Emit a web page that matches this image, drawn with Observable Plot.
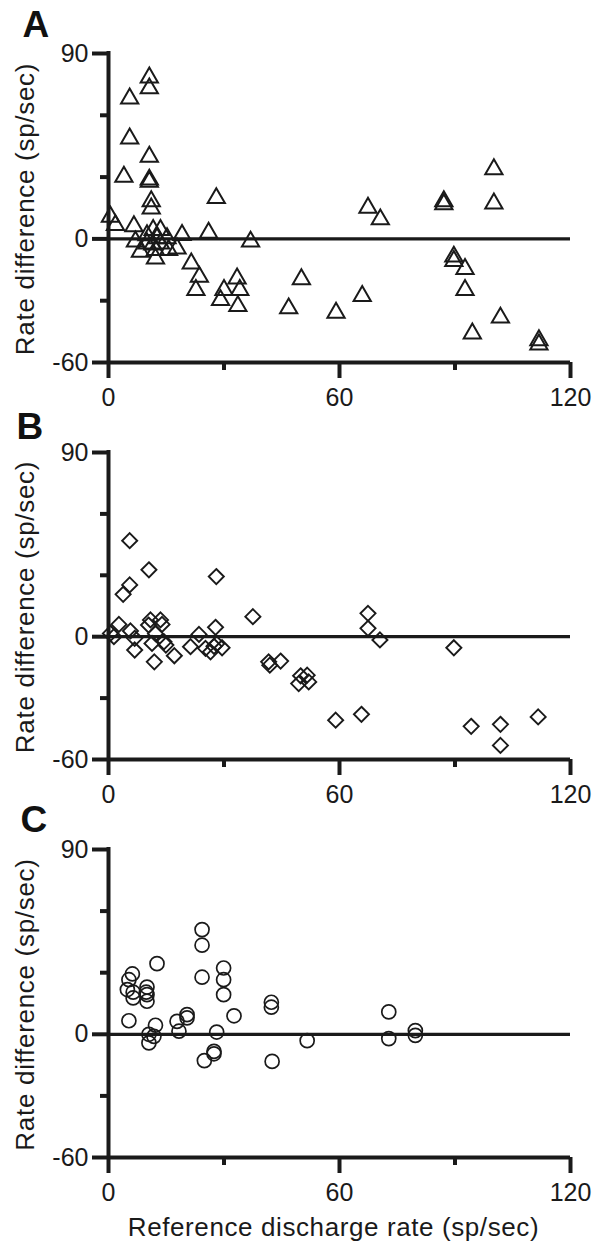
<!DOCTYPE html>
<html>
<head>
<meta charset="utf-8">
<script src="https://cdn.jsdelivr.net/npm/d3@7"></script>
<script src="https://cdn.jsdelivr.net/npm/@observablehq/plot@0.6"></script>
<style>
  html, body { margin: 0; padding: 0; background: #fff; }
  #chart { width: 603px; height: 1248px; overflow: hidden; }
  #chart svg { display: block; }
</style>
</head>
<body>
<div id="chart"></div>
<script>
// ---- tick values and labels ----
const xTicksMajor = [0, 60, 120];
const xTicksMinor = [30, 90];
const yTicksMajor = [90, 0, -60];
const yTicksMinor = [60, 30, -30];
const xDomain = [0, 120];
const yDomain = [-60, 90];
const panelLetters = ["A", "B", "C"];
const yLabel = "Rate difference (sp/sec)";
const xLabel = "Reference discharge rate (sp/sec)";

// ---- Panel A (triangles): reference rate, rate difference ----
const aRefRate = [10.6, 10.6, 5.5, 5.5, 10.6, 4.0, 10.6, 10.6, 28, 11.1, 11.1, 0.5, 1.8, 6.6, 26, 19.1, 36.9,
  7, 8.3, 10, 11.6, 13.5, 12.2, 12.2, 13.5, 15.2, 15.6, 17.8, 11.5, 12.6, 10,
  21.5, 23.6, 22.7, 30, 29.1, 33.4, 34.1, 33.6, 46.8, 50.1, 65.9, 59.1, 67.4, 70.6,
  87.1, 87.1, 89.7, 89.7, 92.6, 92.6, 100.1, 100.1, 101.8, 94.5, 111.8, 111.8];
const aRateDiff = [79.6, 74.3, 69.4, 50, 41.1, 31.4, 30, 29, 21, 19.5, 16, 12, 7.9, 7.4, 4.2, 3.1, -0.1,
  0, -5, -1, 5.5, 5.5, -8.3, -4.2, -1, 1.5, -4.2, -3.4, -1.5, 1.5, 3,
  -10.7, -17.2, -23.6, -23.6, -28.5, -18, -23.6, -31.4, -32.5, -18.4, -26.5, -34.6, 16.3, 10.7,
  19.5, 18, -7.4, -9.5, -13.4, -23.6, 35, 18.4, -37, -44.7, -48, -50];

// ---- Panel B (diamonds) ----
const bRefRate = [5.5, 10.5, 28, 5.5, 3.8, 37.5, 0.5, 2.7, 1.4, 5.7, 6.8, 6.8, 10.9, 10.4, 13.5, 13.9, 12.2,
  11.3, 11.9, 14.4, 14.9, 17.1, 23.5, 21.3, 25.2, 26.5, 27.8, 28.1, 29.5, 27.4,
  41.6, 41.9, 44.7, 49.9, 51.6, 49.4, 52, 67.4, 67.4, 70.5, 89.7, 59, 65.7, 94.2, 101.8, 101.8, 111.6];
const bRateDiff = [46.9, 32.7, 29.4, 25.3, 20.7, 9.8, 1.6, 6, 0, 2.8, -0.8, -6.5, 8.2, 5.7, 8.2, 6, 1.5,
  -3.3, -12.3, -2.5, -4.1, -9.3, 1.1, -4.9, -5.7, -7.4, 4.6, -3.5, -5.4, -4.7,
  -12.3, -13.9, -11.9, -19.1, -18.8, -22.9, -22.1, 11.4, 4.1, -1.6, -5.4, -40.8, -37.9, -43.8, -42.8, -53.1, -39.2];

// ---- Panel C (circles) ----
const cRefRate = [24.3, 24.3, 12.6, 29.9, 29.9, 24.3, 6.2, 5.3, 4.9, 6.4, 6.4, 10, 10, 10, 9.8, 29.9,
  42.3, 42.3, 32.6, 5.3, 12.2, 10.5, 10.5, 11.8, 17.8, 20.4, 20.4, 18.3, 28.1,
  27.4, 27.4, 24.9, 42.5, 72.8, 72.8, 79.7, 79.7, 51.6];
const cRateDiff = [51, 43.4, 34.4, 32.3, 26.6, 27.8, 29.4, 26.6, 21.8, 17.7, 20.5, 23, 19.3, 16.1, 20.5, 19.3,
  15.6, 13.2, 9, 6.6, 4.4, 0, -4.2, -1, 6.3, 9.6, 8, 1.5, 1.1,
  -8.3, -9.5, -12.8, -13.2, 10.9, -2.1, 1.8, -0.5, -3.1];

const ink = "#1a1a1a";
const fontFamily = "'Liberation Sans', Arial, Helvetica, sans-serif";

function panel({letter, xs, ys, symbol, r, sw, sdy, height, mt, mb, ldx, ldy, showXLabel}) {
  const data = xs.map((x, i) => ({x, y: ys[i]}));
  const marks = [
    Plot.ruleY([0], {stroke: ink, strokeWidth: 3.2}),
    Plot.ruleY([yDomain[0]], {stroke: ink, strokeWidth: 4}),
    Plot.ruleX([xDomain[0]], {stroke: ink, strokeWidth: 4, strokeLinecap: "square"}),
    Plot.axisY(yTicksMajor, {anchor: "left", tickSize: 16, tickPadding: 4, strokeWidth: 4, stroke: ink,
      fill: ink, fontSize: 25, tickFormat: d => String(d), label: null}),
    Plot.axisY(yTicksMinor, {anchor: "left", tickSize: 8, strokeWidth: 4, stroke: ink,
      tickFormat: () => "", label: null}),
    Plot.axisX(xTicksMajor, {anchor: "bottom", tickSize: 16, tickPadding: 10, strokeWidth: 4, stroke: ink,
      fill: ink, fontSize: 25, tickFormat: d => String(d), label: null}),
    Plot.axisX(xTicksMinor, {anchor: "bottom", tickSize: 8, strokeWidth: 4, stroke: ink,
      tickFormat: () => "", label: null}),
    Plot.dot(data, {x: "x", y: "y", symbol, r, fill: "none", stroke: ink, strokeWidth: sw, dy: sdy}),
    Plot.text([yLabel], {frameAnchor: "left", rotate: -90, dx: -83, dy: 1, lineAnchor: "middle",
      textAnchor: "middle", fontSize: 26, fill: ink}),
    Plot.text([letter], {frameAnchor: "top-left", dx: ldx, dy: ldy, lineAnchor: "top", textAnchor: "start",
      fontSize: 37, fontWeight: "bold", fill: "#111"})
  ];
  if (showXLabel) {
    marks.push(Plot.text([xLabel], {frameAnchor: "bottom", dx: -6, dy: 60, lineAnchor: "top",
      textAnchor: "middle", fontSize: 26, fill: ink}));
  }
  const svg = Plot.plot({
    width: 603,
    height,
    marginLeft: 108,
    marginRight: 33,
    marginTop: mt,
    marginBottom: mb,
    x: {type: "linear", domain: xDomain},
    y: {type: "linear", domain: yDomain},
    style: {fontFamily, fontSize: "25px", color: ink, background: "#fff", overflow: "visible"},
    marks
  });
  d3.select(svg).selectAll("text")
    .filter(function() { return this.textContent === yLabel || this.textContent === xLabel; })
    .attr("letter-spacing", function() { return this.textContent === yLabel ? "0.7" : "0.6"; });
  return svg;
}

const root = document.getElementById("chart");
root.appendChild(panel({letter: panelLetters[0], xs: aRefRate, ys: aRateDiff, symbol: "triangle", r: 6.4, sw: 2,
  sdy: 2.5, height: 399, mt: 53, mb: 37, ldx: -86, ldy: -43, showXLabel: false}));
root.appendChild(panel({letter: panelLetters[1], xs: bRefRate, ys: bRateDiff, symbol: "diamond2", r: 6.8, sw: 1.9,
  sdy: 0, height: 399, mt: 53, mb: 39, ldx: -92, ldy: -40, showXLabel: false}));
root.appendChild(panel({letter: panelLetters[2], xs: cRefRate, ys: cRateDiff, symbol: "circle", r: 7, sw: 1.7,
  sdy: 0, height: 450, mt: 51, mb: 91, ldx: -88, ldy: -44, showXLabel: true}));
</script>
</body>
</html>
